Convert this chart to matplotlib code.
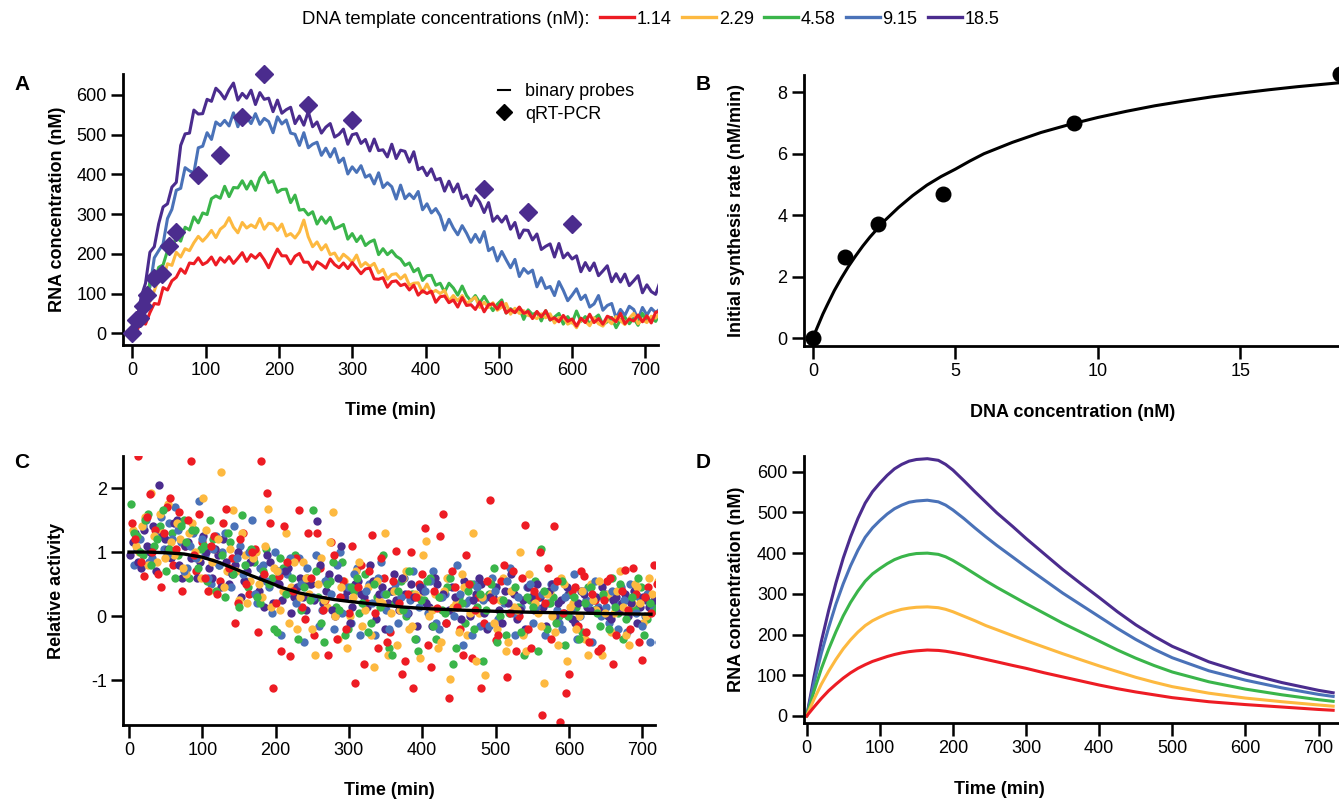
import numpy as np
import matplotlib
matplotlib.use("Agg")
import matplotlib.pyplot as plt
from matplotlib.lines import Line2D

plt.rcParams['font.family'] = ['Liberation Sans', 'DejaVu Sans']

# colours for the five DNA template concentrations
conc_labels = ['1.14', '2.29', '4.58', '9.15', '18.5']
colors = ['#ED1C24', '#FDB940', '#3AB54A', '#4A72B8', '#4B2C8E']

# ---- panel A: binary probe traces (every 6 min) and qRT-PCR points
t_probe = np.arange(121) * 6
probe_red = [0, 5, 30, 23, 52, 75, 73, 115, 109, 132, 141, 162, 151, 177, 175, 190, 173, 179, 192, 172,
             190, 179, 193, 176, 189, 203, 181, 198, 189, 201, 185, 165, 190, 212, 195, 195, 175, 194, 201, 179,
             179, 161, 180, 173, 164, 187, 173, 165, 177, 163, 178, 164, 150, 162, 164, 137, 136, 140, 116, 130,
             132, 120, 124, 109, 121, 96, 107, 100, 106, 78, 92, 94, 77, 84, 66, 90, 70, 72, 60, 79,
             54, 72, 74, 61, 78, 51, 60, 52, 66, 50, 55, 37, 55, 41, 57, 34, 39, 29, 45, 30,
             36, 18, 38, 27, 48, 27, 37, 23, 43, 38, 29, 50, 24, 36, 31, 46, 29, 44, 26, 53, 55]
probe_yellow = [0, 20, 24, 73, 80, 107, 138, 138, 175, 171, 204, 192, 213, 208, 228, 244, 232, 244, 259, 241,
                262, 271, 291, 267, 253, 279, 265, 273, 266, 289, 262, 277, 275, 259, 275, 245, 251, 240, 255, 285,
                243, 218, 230, 210, 223, 198, 202, 183, 199, 190, 179, 197, 168, 178, 168, 176, 152, 161, 136, 148,
                150, 137, 147, 121, 126, 127, 103, 124, 101, 108, 100, 108, 81, 95, 82, 95, 75, 83, 91, 65,
                78, 65, 77, 58, 66, 75, 48, 63, 50, 57, 45, 42, 37, 49, 39, 49, 26, 39, 41, 23,
                29, 14, 35, 30, 19, 39, 24, 18, 34, 24, 42, 32, 22, 38, 50, 24, 34, 27, 43, 38, 52]
probe_green = [0, 26, 54, 68, 129, 129, 166, 172, 208, 213, 242, 232, 267, 260, 293, 278, 303, 299, 339, 346,
               340, 370, 344, 367, 366, 384, 363, 383, 360, 391, 405, 379, 384, 355, 362, 363, 329, 348, 310, 312,
               298, 306, 275, 293, 277, 292, 263, 268, 274, 237, 251, 231, 245, 221, 230, 235, 198, 213, 198, 208,
               194, 187, 171, 177, 155, 163, 133, 145, 146, 121, 126, 104, 126, 114, 96, 119, 95, 81, 95, 77,
               93, 75, 57, 73, 84, 51, 62, 52, 65, 35, 59, 47, 53, 31, 57, 33, 41, 50, 23, 42,
               26, 56, 30, 42, 23, 37, 46, 22, 29, 40, 14, 34, 41, 24, 38, 20, 50, 31, 38, 30, 52]
probe_blue = [0, 38, 49, 97, 116, 190, 208, 225, 289, 312, 360, 365, 417, 409, 404, 467, 471, 505, 488, 532,
              523, 536, 522, 555, 520, 552, 544, 528, 553, 526, 541, 533, 505, 545, 527, 537, 504, 501, 473, 505,
              467, 476, 481, 448, 466, 444, 465, 430, 441, 401, 419, 405, 422, 393, 399, 376, 404, 367, 379, 369,
              338, 373, 339, 351, 339, 357, 311, 326, 303, 314, 296, 260, 287, 265, 248, 271, 252, 229, 249, 229,
              256, 208, 216, 182, 206, 185, 165, 186, 143, 163, 151, 159, 117, 140, 113, 118, 95, 130, 108, 82,
              96, 112, 85, 96, 66, 74, 95, 58, 70, 75, 38, 60, 45, 68, 60, 35, 65, 46, 63, 52, 62]
probe_purple = [0, 30, 91, 126, 204, 218, 276, 318, 326, 368, 380, 473, 502, 504, 562, 552, 553, 589, 584, 617,
                606, 590, 613, 630, 587, 604, 592, 612, 576, 606, 589, 592, 558, 587, 554, 563, 569, 528, 547, 524,
                558, 520, 532, 504, 519, 528, 494, 501, 514, 476, 500, 503, 478, 488, 459, 489, 460, 462, 444, 476,
                440, 461, 458, 431, 457, 412, 418, 397, 414, 386, 390, 358, 383, 356, 376, 339, 348, 321, 346, 330,
                304, 329, 282, 295, 280, 295, 262, 279, 240, 260, 259, 235, 250, 211, 219, 225, 192, 226, 190, 202,
                187, 195, 155, 178, 158, 177, 145, 157, 170, 130, 150, 129, 149, 120, 132, 145, 102, 122, 105, 98, 130]
probe_series = [probe_red, probe_yellow, probe_green, probe_blue, probe_purple]

qpcr_t = [0, 5, 10, 15, 20, 30, 40, 50, 60, 90, 120, 150, 180, 240, 300, 480, 540, 600]
qpcr_rna = [0, 33, 38, 69, 96, 138, 150, 220, 255, 398, 450, 545, 654, 576, 538, 363, 306, 275]

# ---- panel B: initial synthesis rate vs DNA
dna_conc = [0, 1.14, 2.29, 4.58, 9.15, 18.5]
init_rate = [0, 2.65, 3.72, 4.68, 7.0, 8.58]
fit_dna = [0, 0.1, 0.2, 0.35, 0.5, 0.75, 1, 1.25, 1.5, 1.75, 2, 2.5, 3, 3.5, 4, 4.5, 5, 5.5, 6,
           7, 8, 9, 10, 11, 12, 13, 14, 15, 16, 17, 18.5]
fit_rate = [0, 0.24, 0.46, 0.79, 1.08, 1.55, 1.96, 2.34, 2.68, 3.0, 3.29, 3.81, 4.25, 4.64, 4.98, 5.26,
            5.5, 5.76, 6.0, 6.37, 6.69, 6.95, 7.18, 7.38, 7.56, 7.71, 7.85, 7.97, 8.08, 8.18, 8.31]

# ---- panel C: relative activity (two interleaved runs, every 8 min, per template)
act_red = [1.45, 2.5, 0.62, 1.9, 1.35, 0.45, 1.7, 0.8, 1.62, 1.1,
           2.42, 0.7, 1.15, 0.4, 1.25, 0.55, 1.68, 0.9, 0.2, 1.3,
           0.35, 1.05, 2.42, 1.92, -1.12, 0.62, 1.4, -0.62, 0.9, 0.15,
           1.3, -0.3, 0.75, 0.25, 1.15, -0.35, 0.55, 0.05, -1.05, 0.8,
           0.2, 1.27, -0.5, 0.6, -0.25, 1.02, -0.9, 0.35, -1.12, 0.5,
           1.38, -0.8, 0.12, 1.6, -1.28, 0.45, -0.2, 0.95, -0.65, 0.3,
           -0.1, 1.82, -0.38, 0.55, -0.95, 0.7, 0.0, 1.42, -0.5, 0.3,
           -1.55, 0.75, 1.4, -1.65, -1.2, 0.4, -0.15, 0.62, -0.4, 0.25,
           -0.5, 0.55, -0.75, 0.1, 0.72, -0.2, 0.35, -0.68, 0.45, 0.8]
act_red_b = [1.2, 0.85, 1.55, 1.0, 0.65, 1.3, 1.85, 1.05, 0.4, 1.5,
             0.95, 1.6, 0.6, 1.1, 0.35, 1.45, 0.75, -0.1, 1.2, 0.5,
             1.0, -0.25, 0.65, 1.45, 0.2, -0.55, 0.85, 0.4, 1.65, -0.05,
             0.6, 1.3, 0.1, -0.6, 0.95, 0.3, -0.2, 1.1, 0.45, -0.75,
             0.7, 0.05, 0.9, -0.4, 0.55, 0.2, -0.7, 1.0, 0.3, 0.65,
             -0.45, 0.4, 1.25, -0.1, 0.7, 0.15, -0.6, 0.5, 0.1, -1.12,
             0.55, 0.25, -0.3, 0.8, 0.05, -0.55, 0.6, -0.2, 0.4, 1.0,
             0.2, -0.35, 0.55, 0.05, -0.9, 0.45, 0.7, -0.25, 0.35, -0.55,
             0.25, 0.6, -0.3, 0.4, 0.1, 0.75, -0.4, 0.3, 0.05, 0.5]
act_yellow = [1.35, 1.0, 1.55, 1.92, 0.85, 1.3, 1.75, 0.95, 1.2, 0.65,
              1.45, 0.9, 1.85, 0.4, 1.05, 2.25, 0.7, 1.65, 0.25, 0.95,
              0.55, 1.0, 0.3, 1.68, 0.75, 0.1, 1.3, 0.45, -0.2, 0.85,
              0.35, -0.6, 0.9, 0.15, 1.62, -0.35, 0.55, 0.0, 0.7, -0.15,
              0.45, -0.8, 0.25, 1.3, 0.05, -0.45, 0.6, -0.2, 0.35, -0.65,
              1.18, 0.1, -0.5, 0.4, -0.98, 0.2, 0.65, -0.3, 1.3, 0.05,
              -0.92, 0.35, -0.2, 0.6, -0.4, 0.15, 1.0, -0.55, 0.3, 0.05,
              -1.05, 0.4, -0.25, 0.6, -0.7, 0.2, 0.0, -0.35, 0.5, 0.1,
              -0.6, 0.35, 0.05, 0.7, -0.3, 0.2, 0.45, -0.1, 0.6, 0.3]
act_yellow_b = [1.1, 1.4, 0.8, 1.25, 1.6, 0.9, 1.15, 1.45, 0.75, 1.3,
                1.0, 0.6, 1.35, 0.85, 1.2, 0.45, 1.05, 0.7, 1.3, 0.2,
                0.9, 0.5, 1.1, 0.15, 0.7, 0.4, -0.1, 0.85, 0.3, 0.6,
                -0.2, 0.5, 0.25, 1.15, 0.0, 0.45, -0.5, 0.3, 0.85, 0.1,
                -0.3, 0.55, 0.2, -0.6, 0.4, 0.1, 0.7, -0.15, 0.3, 0.95,
                0.0, 0.35, -0.4, 0.6, 0.15, -0.25, 0.45, 0.05, -0.7, 0.3,
                0.55, -0.1, 0.25, -0.55, 0.4, 0.1, -0.3, 0.65, 0.2, -0.15,
                0.35, 0.0, -0.45, 0.5, 0.15, -0.2, 0.4, -0.6, 0.25, 0.55,
                0.05, -0.25, 0.4, 0.15, -0.45, 0.5, 0.2, 0.0, 0.35, 0.55]
act_green = [1.75, 1.25, 0.95, 1.6, 1.1, 1.4, 0.7, 1.3, 0.95, 1.5,
             0.6, 1.35, 1.05, 0.55, 1.2, 0.8, 0.3, 1.15, 0.9, 1.58,
             0.45, 0.85, 0.2, 1.05, 0.6, -0.25, 0.75, 0.4, 0.95, 0.1,
             0.6, 1.65, 0.3, -0.4, 0.55, 0.15, 0.85, -0.2, 0.4, 0.05,
             0.65, -0.1, 0.3, 0.95, -0.5, 0.2, 0.55, 0.0, 0.35, -0.55,
             0.25, 0.6, -0.35, 0.1, 0.45, -0.75, 0.3, -0.1, 0.5, 0.15,
             -0.7, 0.35, 0.75, 0.0, -0.3, 0.4, 0.15, -0.6, 0.25, 0.55,
             1.05, -0.2, 0.3, 0.0, -0.45, 0.35, 0.15, -0.25, 0.45, 0.1,
             -0.15, 0.3, 0.6, 0.05, -0.35, 0.25, 0.1, 0.45, -0.05, 0.2]
act_green_b = [1.3, 1.0, 1.5, 0.8, 1.2, 1.65, 1.05, 0.6, 1.4, 1.15,
               1.35, 0.75, 1.1, 1.5, 0.4, 0.95, 1.3, 0.65, 0.15, 0.8,
               1.05, 0.3, 0.7, 0.5, -0.2, 0.9, 0.35, 0.6, -0.35, 0.45,
               0.25, 0.7, -0.1, 0.5, 0.85, 0.1, -0.3, 0.45, 0.6, 0.2,
               -0.25, 0.5, 0.15, 0.35, -0.6, 0.4, 0.1, 0.7, -0.35, 0.25,
               0.55, -0.15, 0.3, 0.05, 0.6, -0.5, 0.2, 0.4, -0.2, 0.35,
               0.1, 0.5, -0.4, 0.25, 0.05, 0.45, -0.25, 0.3, 0.15, -0.55,
               0.4, 0.2, -0.1, 0.55, 0.0, 0.3, -0.35, 0.2, 0.45, 0.05,
               0.35, -0.2, 0.15, 0.5, -0.05, 0.3, 0.6, -0.3, 0.2, 0.1]
act_blue = [0.8, 1.2, 1.5, 0.9, 1.3, 1.05, 1.45, 1.7, 1.15, 0.75,
            1.3, 1.8, 0.95, 0.5, 1.25, 1.0, 0.7, 1.4, 1.1, 0.55,
            1.5, 0.2, 0.8, 0.45, 1.0, -0.3, 0.65, 0.35, 0.9, -0.4,
            0.5, 0.95, 0.1, 0.6, -0.2, 1.0, 0.3, -0.1, 0.75, 0.2,
            0.5, -0.3, 0.85, 0.1, 0.4, -0.1, 0.6, 0.25, -0.35, 0.45,
            0.05, 0.7, -0.2, 0.35, 0.1, 0.8, -0.45, 0.25, 0.5, -0.15,
            0.3, 0.6, -0.05, 0.2, 0.75, -0.3, 0.15, 0.45, -0.1, 0.3,
            -0.3, 0.5, 0.1, -0.2, 0.35, 0.65, 0.0, 0.25, -0.4, 0.15,
            0.3, -0.1, 0.2, 0.45, -0.25, 0.15, 0.3, 0.0, -0.4, 0.2]
act_blue_b = [1.05, 1.4, 0.85, 1.25, 1.55, 0.95, 1.2, 1.35, 0.7, 1.1,
              0.9, 1.2, 0.6, 1.05, 0.8, 1.3, 0.45, 0.9, 0.65, 1.0,
              0.35, 0.75, 0.55, 0.05, 0.7, 0.4, 0.9, 0.2, 0.5, 0.75,
              0.3, -0.15, 0.55, 0.35, 0.8, 0.05, 0.45, 0.65, -0.3, 0.4,
              0.2, 0.6, 0.35, -0.2, 0.5, 0.3, 0.05, 0.7, 0.15, 0.4,
              0.55, -0.1, 0.3, 0.6, 0.0, 0.35, 0.2, -0.3, 0.45, 0.25,
              -0.15, 0.4, 0.25, 0.55, 0.05, 0.3, -0.25, 0.5, 0.15, 0.35,
              0.2, 0.45, -0.1, 0.3, 0.1, -0.35, 0.4, 0.2, 0.55, 0.0,
              0.15, 0.4, -0.2, 0.25, 0.5, 0.05, -0.15, 0.35, 0.1, -0.4]
act_purple = [0.95, 1.3, 0.75, 1.1, 1.4, 2.05, 1.2, 0.9, 1.5, 0.6,
              1.15, 1.35, 0.85, 1.0, 0.6, 0.95, 1.2, 0.5, 0.8, 0.3,
              0.7, 0.9, 0.4, 0.15, 0.85, 0.55, 0.25, 0.75, 0.3, 0.6,
              0.1, 0.5, 1.48, 0.2, 0.65, 0.0, 1.1, 0.4, 0.15, 0.55,
              0.3, 0.8, -0.05, 0.45, 0.2, 0.65, 0.1, 0.35, 0.5, -0.15,
              0.4, 0.15, 0.6, 0.3, -0.1, 0.45, 0.2, 0.55, 0.0, 0.35,
              0.5, -0.2, 0.3, 0.1, 0.4, 0.65, -0.05, 0.25, 0.45, 0.1,
              0.3, -0.15, 0.5, 0.2, 0.05, 0.35, -0.1, 0.4, 0.15, 0.25,
              0.1, 0.35, -0.05, 0.3, 0.2, 0.0, 0.4, 0.15, 0.25, 0.1]
act_purple_b = [1.15, 0.85, 1.35, 1.0, 0.7, 1.25, 1.05, 1.45, 0.8, 1.1,
                0.9, 0.6, 1.25, 0.75, 1.05, 0.45, 0.85, 0.65, 1.0, 0.55,
                0.85, 0.35, 0.6, 0.95, 0.2, 0.5, 0.7, 0.05, 0.45, 0.3,
                0.55, 0.25, 0.8, 0.4, 0.1, 0.6, 0.3, -0.1, 0.5, 0.35,
                0.15, 0.55, 0.35, -0.2, 0.4, 0.25, 0.6, 0.05, 0.3, 0.45,
                0.2, -0.15, 0.5, 0.35, 0.1, 0.3, -0.05, 0.45, 0.25, 0.6,
                0.05, 0.3, 0.45, -0.1, 0.2, 0.35, 0.1, -0.2, 0.3, 0.5,
                0.15, 0.4, 0.0, 0.25, 0.45, -0.05, 0.2, 0.35, 0.1, 0.3,
                0.45, 0.0, 0.25, 0.1, 0.35, 0.2, -0.1, 0.3, 0.15, 0.25]
act_series = [act_red, act_yellow, act_green, act_blue, act_purple]
act_series_b = [act_red_b, act_yellow_b, act_green_b, act_blue_b, act_purple_b]
act_start = [4, 5.6, 2.4, 7.2, 0.8]  # first sampling time of each template (min)

act_fit_t = [0, 25, 50, 75, 100, 120, 142, 165, 188, 210, 233, 255, 279, 300, 324, 350, 370, 400,
             450, 500, 550, 600, 650, 712]
act_fit = [1.0, 1.0, 0.99, 0.97, 0.92, 0.85, 0.75, 0.64, 0.54, 0.44, 0.36, 0.31, 0.26, 0.23, 0.2,
           0.17, 0.145, 0.12, 0.095, 0.075, 0.06, 0.05, 0.04, 0.03]

# ---- panel D: model curves
model_t = [0, 10, 20, 30, 40, 50, 60, 70, 80, 90, 100, 110, 120, 130, 140, 150, 165, 180, 190, 200,
           215, 230, 245, 260, 282, 300, 325, 350, 375, 400, 425, 450, 475, 500, 550, 600, 650, 700, 720]
model_red = [0, 22, 43, 62, 78, 93, 106, 117, 126, 134, 140, 146, 151, 155, 158, 160, 162, 161, 159, 156,
             151, 145, 139, 133, 124, 117, 106, 96, 86, 76, 67, 59, 52, 45, 35, 28, 22, 16, 14]
model_yellow = [0, 41, 78, 110, 139, 165, 187, 206, 222, 234, 243, 251, 257, 262, 265, 267, 268, 266, 262, 256,
                245, 234, 222, 212, 197, 185, 169, 153, 138, 123, 109, 95, 83, 72, 56, 44, 35, 27, 24]
model_green = [0, 61, 116, 164, 207, 246, 279, 307, 331, 349, 362, 374, 384, 391, 396, 399, 400, 397, 391, 382,
               366, 349, 332, 316, 294, 276, 252, 228, 206, 184, 162, 142, 124, 108, 84, 66, 52, 40, 36]
model_blue = [0, 81, 154, 217, 275, 325, 369, 407, 439, 462, 480, 496, 509, 518, 525, 528, 530, 526, 518, 506,
              485, 462, 440, 419, 390, 366, 334, 302, 273, 244, 215, 188, 164, 143, 111, 88, 69, 53, 48]
model_purple = [0, 96, 183, 259, 327, 388, 440, 485, 523, 551, 572, 591, 607, 618, 626, 630, 632, 628, 618, 604,
                578, 551, 525, 499, 465, 436, 398, 360, 325, 291, 256, 224, 196, 171, 133, 105, 82, 63, 57]
model_series = [model_red, model_yellow, model_green, model_blue, model_purple]

fig = plt.figure(figsize=(13.39, 8.02), dpi=100)
W, H = 1339, 802


def make_axes(left, top, right, bottom):
    return fig.add_axes([left / W, 1 - bottom / H, (right - left) / W, (bottom - top) / H])


def style(ax):
    for s in ['top', 'right']:
        ax.spines[s].set_visible(False)
    for s in ['left', 'bottom']:
        ax.spines[s].set_linewidth(2.0)
    ax.tick_params(direction='out', length=9, width=1.8, labelsize=13, pad=3)


lab_kw = dict(fontsize=13, fontweight='bold')

# A
axA = make_axes(123.3, 74, 658.3, 345)
style(axA)
for vals, c in list(zip(probe_series, colors))[::-1]:
    axA.plot(t_probe, vals, color=c, lw=2.2)
axA.plot(qpcr_t, qpcr_rna, ls='none', marker='D', ms=9, color=colors[4], zorder=5, clip_on=False)
axA.set_xlim(-12.3, 717.6)
axA.set_ylim(-29.5, 652.8)
axA.set_xticks(range(0, 701, 100))
axA.set_yticks(range(0, 601, 100))
axA.set_xlabel('Time (min)', **lab_kw)
axA.set_ylabel('RNA concentration (nM)', **lab_kw)
axA.xaxis.set_label_coords(0.5, -0.21)
axA.yaxis.set_label_coords(-0.108, 0.5)
axA.legend([Line2D([], [], color='black', lw=1.5),
            Line2D([], [], color='black', marker='D', ls='none', ms=8)],
           ['binary probes', 'qRT-PCR'], loc='upper left', bbox_to_anchor=(0.70, 0.965),
           frameon=False, fontsize=13, handlelength=0.7, handletextpad=0.8,
           labelspacing=0.28, borderpad=0, borderaxespad=0)

# B
axB = make_axes(803.8, 75, 1339, 346)
style(axB)
axB.plot(fit_dna, fit_rate, color='black', lw=2.2)
axB.scatter(dna_conc, init_rate, s=110, color='black', zorder=5, clip_on=False)
axB.set_xlim(-0.32, 18.46)
axB.set_ylim(-0.25, 8.56)
axB.set_xticks([0, 5, 10, 15])
axB.set_yticks([0, 2, 4, 6, 8])
axB.set_xlabel('DNA concentration (nM)', **lab_kw)
axB.set_ylabel('Initial synthesis rate (nM/min)', **lab_kw)
axB.xaxis.set_label_coords(0.503, -0.214)
axB.yaxis.set_label_coords(-0.11, 0.5)

# C
axC = make_axes(123.3, 456, 655, 725)
style(axC)
for i in [3, 4, 2, 1, 0]:
    n = len(act_series[i])
    axC.scatter(np.arange(n) * 8 + act_start[i], act_series[i], s=36, color=colors[i], linewidths=0)
for i in [4, 3, 1, 2, 0]:
    n = len(act_series_b[i])
    axC.scatter(np.arange(n) * 8 + act_start[i] + 4, act_series_b[i], s=36, color=colors[i], linewidths=0)
axC.plot(act_fit_t, act_fit, color='black', lw=2.4, zorder=5)
axC.set_xlim(-7.8, 717.5)
axC.set_ylim(-1.70, 2.5)
axC.set_xticks(range(0, 701, 100))
axC.set_yticks([-1, 0, 1, 2])
axC.set_yticklabels(['-1', '0', '1', '2'])
axC.set_xlabel('Time (min)', **lab_kw)
axC.set_ylabel('Relative activity', **lab_kw)
axC.xaxis.set_label_coords(0.5, -0.212)
axC.yaxis.set_label_coords(-0.11, 0.5)

# D
axD = make_axes(804, 456, 1339, 723.3)
style(axD)
for vals, c in list(zip(model_series, colors))[::-1]:
    axD.plot(model_t, vals, color=c, lw=2.2)
axD.set_xlim(-3.7, 728)
axD.set_ylim(-18, 638.6)
axD.set_xticks(range(0, 701, 100))
axD.set_yticks(range(0, 601, 100))
axD.set_xlabel('Time (min)', **lab_kw)
axD.set_ylabel('RNA concentration (nM)', **lab_kw)
axD.xaxis.set_label_coords(0.366, -0.216)
axD.yaxis.set_label_coords(-0.11, 0.5)

# panel letters
for letter, x, y in [('A', 22, 85), ('B', 703, 85), ('C', 22, 462), ('D', 703, 462)]:
    fig.text(x / W, 1 - y / H, letter, fontsize=15, fontweight='bold', ha='center', va='center')

# top legend
fig.text(302 / W, 1 - 19 / H, 'DNA template concentrations (nM):', fontsize=13.3, va='center')
handles = [Line2D([], [], color=c, lw=2.4) for c in colors]
fig.legend(handles, conc_labels, loc='center left', bbox_to_anchor=(600 / W, 1 - 19 / H), ncol=5,
           frameon=False, fontsize=13, handlelength=1.9, handletextpad=0.15, columnspacing=0.55,
           borderpad=0, borderaxespad=0)

fig.savefig('out.png', dpi=100)
